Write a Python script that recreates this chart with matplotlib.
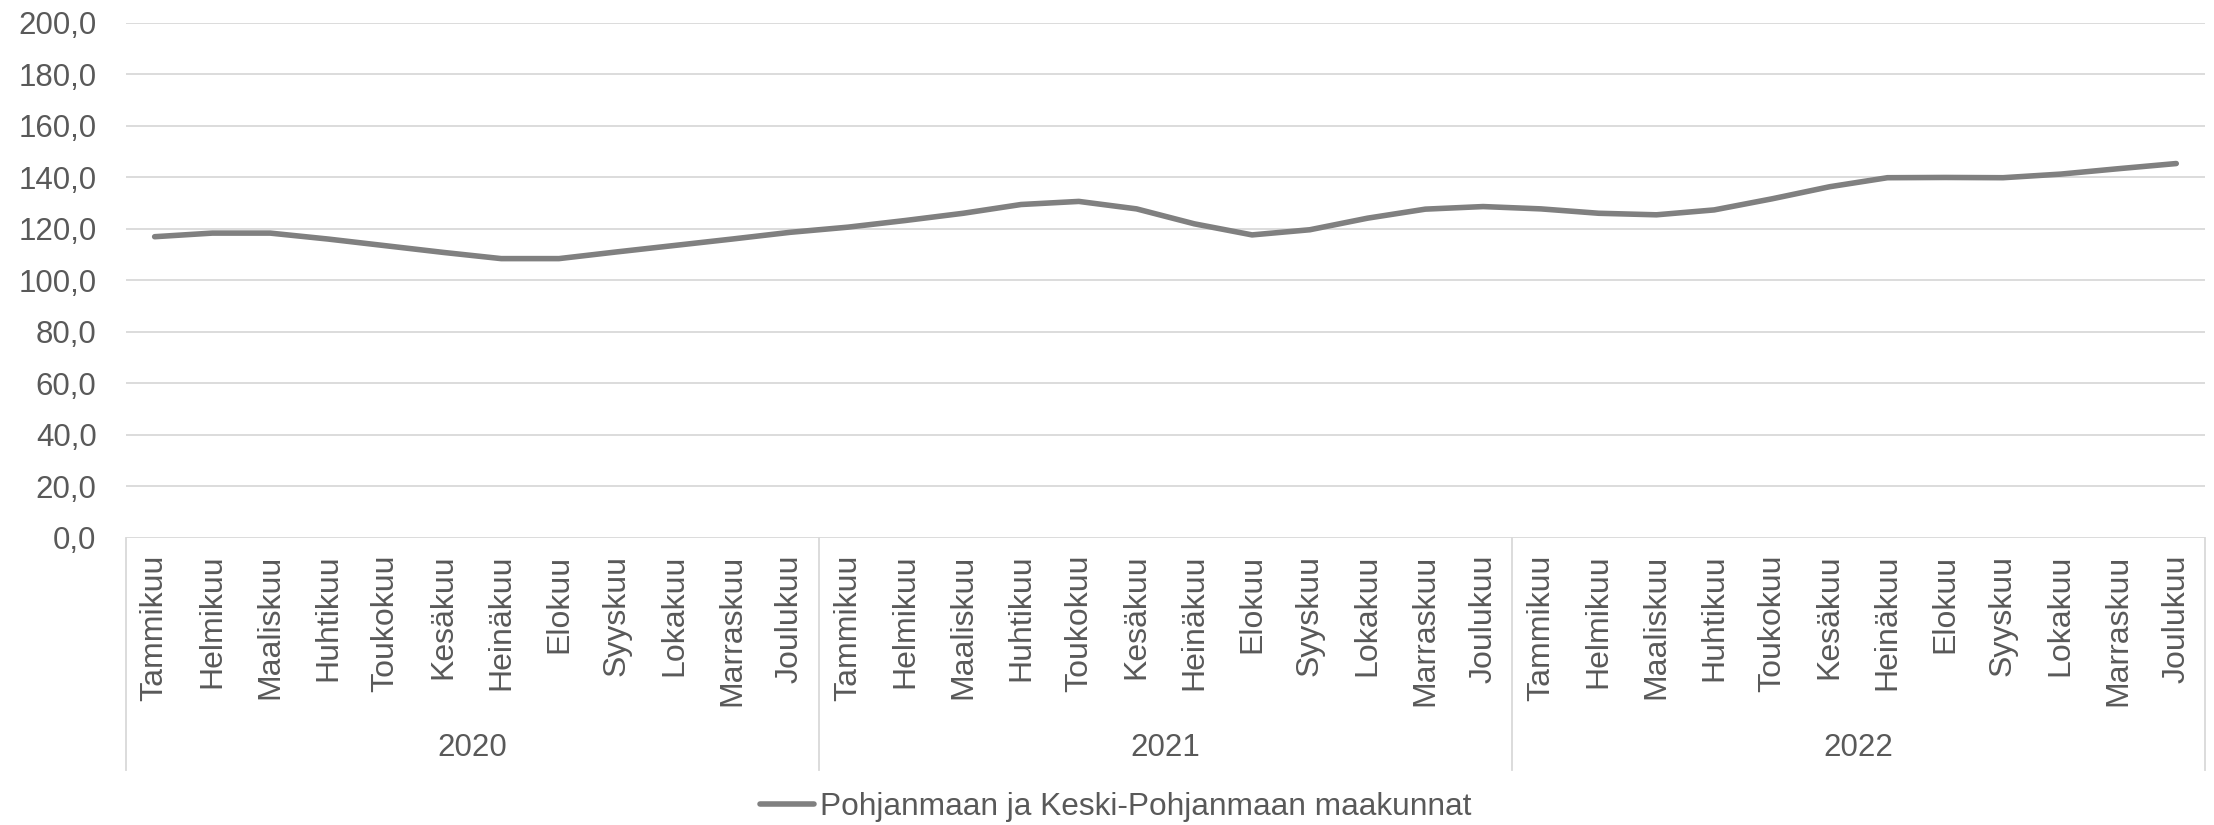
import matplotlib.pyplot as plt
import matplotlib.transforms as mtransforms
from matplotlib.ticker import FuncFormatter

plt.rcParams['font.family'] = ['Liberation Sans', 'DejaVu Sans']

months = ['Tammikuu', 'Helmikuu', 'Maaliskuu', 'Huhtikuu', 'Toukokuu', 'Kesäkuu',
          'Heinäkuu', 'Elokuu', 'Syyskuu', 'Lokakuu', 'Marraskuu', 'Joulukuu']
years = ['2020', '2021', '2022']
series_name = 'Pohjanmaan ja Keski-Pohjanmaan maakunnat'

values_2020 = [116.9, 118.3, 118.3, 116.0, 113.4, 110.8, 108.4, 108.4, 111.0, 113.5, 116.0, 118.6]
values_2021 = [120.6, 123.2, 126.0, 129.4, 130.6, 127.7, 121.9, 117.6, 119.6, 124.1, 127.6, 128.6]
values_2022 = [127.7, 126.0, 125.4, 127.3, 131.6, 136.3, 139.8, 139.9, 139.8, 141.2, 143.3, 145.3]

values = values_2020 + values_2021 + values_2022
labels = months * len(years)
x = list(range(len(values)))

text_col = '#595959'
grid_col = '#d9d9d9'
fs = 22.5

fig = plt.figure(figsize=(22.14, 8.25), dpi=100)
ax = fig.add_axes([0.0568, 0.348, 0.996 - 0.0568, 0.9726 - 0.348])

line, = ax.plot(x, values, color='#808080', lw=4, solid_capstyle='round', label=series_name)

ax.set_ylim(0, 200)
ax.set_yticks(range(0, 201, 20))
ax.yaxis.set_major_formatter(FuncFormatter(lambda v, p: f'{v:.1f}'.replace('.', ',')))
ax.set_xlim(-0.5, len(values) - 0.5)
ax.set_xticks(x)
ax.set_xticklabels(labels, rotation=90, ha='center', va='top')

ax.grid(axis='y', color=grid_col, lw=1.3)
ax.set_axisbelow(True)
for s in ax.spines.values():
    s.set_visible(False)
ax.tick_params(axis='y', length=0, pad=21, labelsize=fs, labelcolor=text_col)
ax.tick_params(axis='x', length=0, pad=12, labelsize=23, labelcolor=text_col)

trans = mtransforms.blended_transform_factory(ax.transData, ax.transAxes)
for i in range(len(years) + 1):
    xb = i * 12 - 0.5
    ax.plot([xb, xb], [0, -0.45], color=grid_col, lw=1.3, transform=trans, clip_on=False)
for i, yr in enumerate(years):
    ax.text(i * 12 + 5.5, -0.4075, yr, transform=trans, ha='center', va='center',
            fontsize=fs, color=text_col)

fig.legend(handles=[line], loc='center', bbox_to_anchor=(0.504, 0.022), frameon=False,
           fontsize=22.8, labelcolor=text_col, handlelength=1.7, handletextpad=0.2)

fig.savefig('out.png', dpi=100)
